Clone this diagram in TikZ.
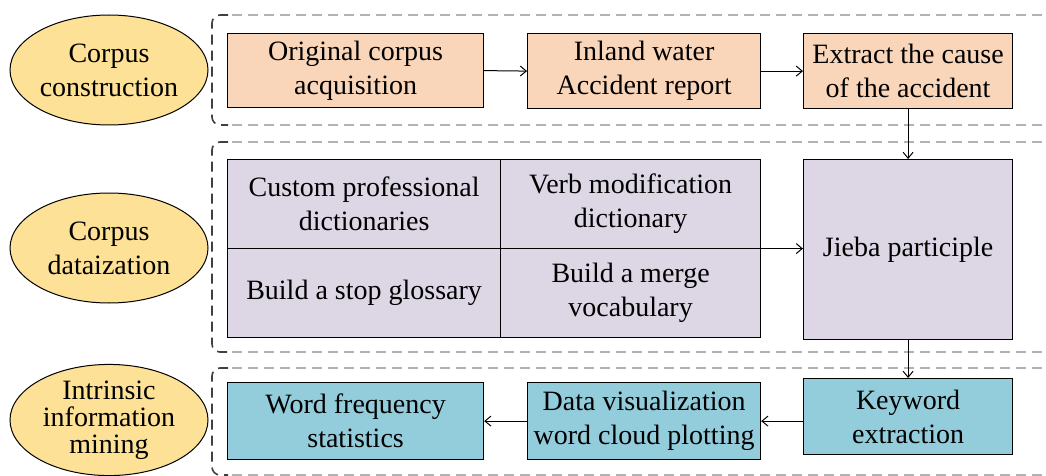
\documentclass[tikz,border=0pt]{standalone}
\usepackage{fontspec}
\setmainfont{Liberation Serif}
\usetikzlibrary{arrows.meta,shapes.geometric}
\definecolor{peach}{HTML}{F9D6BA}
\definecolor{lilac}{HTML}{DDD6E5}
\definecolor{teal}{HTML}{93CDDC}
\definecolor{gold}{HTML}{FCE196}
\tikzset{
  txt/.style={font=\fontsize{28}{34}\selectfont, align=center},
  stepbox/.style={txt, draw=black, line width=1.2pt, inner sep=0pt, anchor=north west},
  stage/.style={txt, ellipse, draw=black, line width=1pt, fill=gold, inner sep=0pt, minimum width=198pt, minimum height=110pt},
  grp/.style={line width=1.6pt, dash pattern=on 10pt off 6pt, rounded corners=8pt},
  arr/.style={line width=1pt, -{Straight Barb[length=6pt,width=10pt]}}
}
\begin{document}
\begin{tikzpicture}[x=1pt,y=-1pt]
\useasboundingbox (0,0) rectangle (1046,476);
\clip (0,0) rectangle (1046,476);
% group frames
\foreach \t/\b in {15/125, 142/352, 368/475}{
  \draw[grp, draw=black!75] (228,\t) -- (212,\t) -- (212,\b) -- (228,\b);
  \draw[grp, draw=gray!60] (232,\t) -- (1060,\t);
  \draw[grp, draw=gray!60] (232,\b) -- (1060,\b);
}
% stage ellipses
\node[stage] (s1) at (109,70) {Corpus\\construction};
\node[stage] (s2) at (109,248) {Corpus\\dataization};
\node[stage, font=\fontsize{28}{27}\selectfont] (s3) at (109,420) {Intrinsic\\information\\mining};
% row 1
\node[stepbox, fill=peach, minimum width=256pt, minimum height=74pt] (orig) at (227,33) {Original corpus\\acquisition};
\node[stepbox, fill=peach, minimum width=233pt, minimum height=75pt] (inland) at (527,33) {Inland water\\Accident report};
\node[stepbox, fill=peach, minimum width=209pt, minimum height=75pt] (extract) at (803,33) {Extract the cause\\of the accident};
% row 2
\node[stepbox, fill=lilac, minimum width=533pt, minimum height=178pt] (grid) at (227,159) {};
\node[stepbox, minimum width=273pt, minimum height=89pt] (custom) at (227,159) {Custom professional\\dictionaries};
\node[stepbox, minimum width=260pt, minimum height=89pt] (verb) at (500,159) {Verb modification\\dictionary};
\node[stepbox, minimum width=273pt, minimum height=89pt] (stop) at (227,248) {Build a stop glossary};
\node[stepbox, minimum width=260pt, minimum height=89pt] (merge) at (500,248) {Build a merge\\vocabulary};
\node[stepbox, fill=lilac, minimum width=209pt, minimum height=180pt] (jieba) at (803,159) {Jieba participle};
% row 3
\node[stepbox, fill=teal, minimum width=256pt, minimum height=77pt] (freq) at (227,382) {Word frequency\\statistics};
\node[stepbox, fill=teal, minimum width=233pt, minimum height=77pt] (viz) at (527,382) {Data visualization\\word cloud plotting};
\node[stepbox, fill=teal, minimum width=209pt, minimum height=76pt] (kw) at (803,378) {Keyword\\extraction};
% connectors
\draw[arr] (orig.east) -- (inland.west);
\draw[arr] (inland.east) -- (extract.west);
\draw[arr] (extract.south) -- (jieba.north);
\draw[arr] (grid.east) -- (grid.east -| jieba.west);
\draw[arr] (jieba.south) -- (kw.north);
\draw[arr] (kw.west |- viz.east) -- (viz.east);
\draw[arr] (viz.west) -- (freq.east);
\end{tikzpicture}
\end{document}
